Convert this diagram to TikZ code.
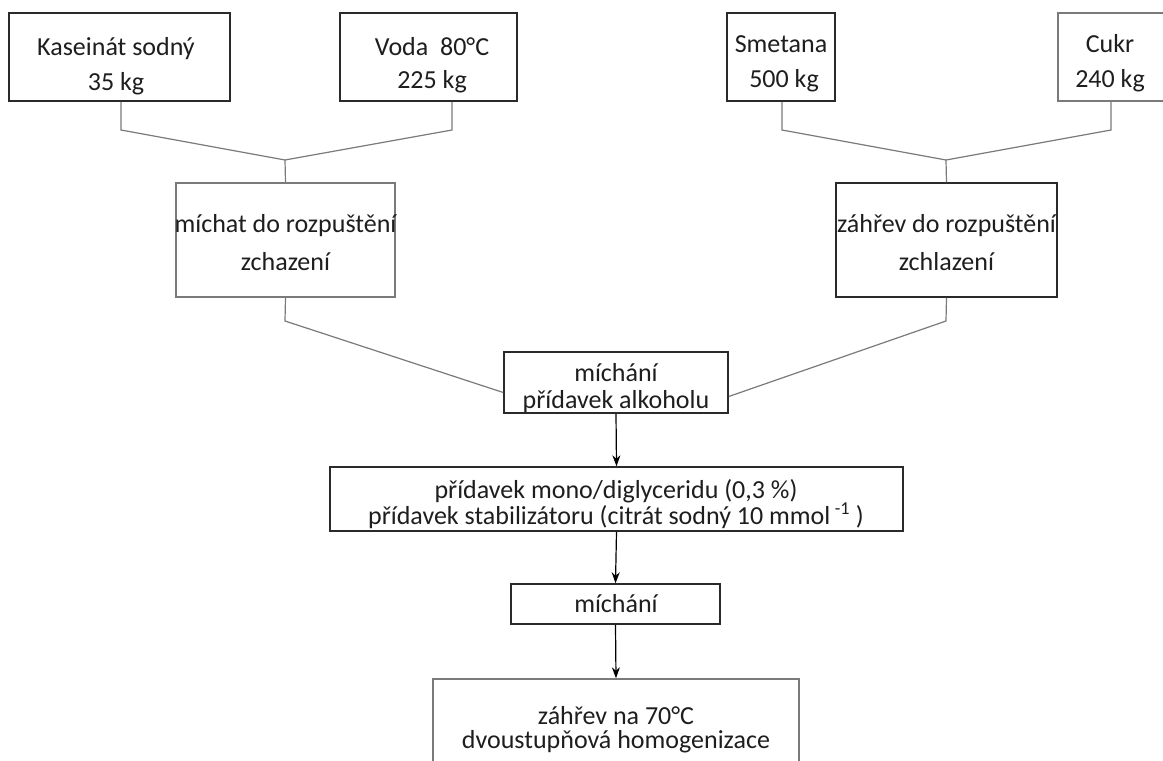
\documentclass[tikz,border=0pt]{standalone}
\usepackage{fontspec}
\setmainfont{Carlito}
\usetikzlibrary{arrows.meta}
\definecolor{txtc}{HTML}{1E1E1E}
\definecolor{lgray}{HTML}{7A7A7A}
\definecolor{dgray}{HTML}{2A2A2A}
\tikzset{
  dbox/.style={draw=dgray, line width=1.5pt, inner sep=0pt},
  gbox/.style={draw=lgray, line width=1.5pt, inner sep=0pt},
  txt/.style={anchor=base, inner sep=0pt, text=txtc, font=\fontsize{26}{30}\selectfont},
  conn/.style={draw=lgray, line width=1.2pt},
  arr/.style={draw=black, line width=1.2pt, -{Stealth[length=11pt,width=8pt]}}
}
\begin{document}
\begin{tikzpicture}[x=1pt,y=-1pt]
\useasboundingbox (0,0) rectangle (1163,761);
\clip (0,0) rectangle (1163,761);
\fill[white] (0,0) rectangle (1163,761);

% top boxes
\node[dbox, minimum width=221pt, minimum height=88pt] (b1) at (119.5,57) {};
\node[txt] (t1a) at (116,55) {Kaseinát sodný};
\node[txt] (t1b) at (116,90) {35 kg};

\node[dbox, minimum width=177pt, minimum height=88pt] (b2) at (428.5,57) {};
\node[txt] (t2a) at (432,55) {Voda\ \ 80°C};
\node[txt] (t2b) at (432,88) {225 kg};

\node[dbox, minimum width=108pt, minimum height=88pt] (b3) at (781,57) {};
\node[txt] (t3a) at (781,52) {Smetana};
\node[txt] (t3b) at (784,87) {500 kg};

\node[gbox, minimum width=120pt, minimum height=88pt] (b4) at (1118,57) {};
\node[txt] (t4a) at (1110,52) {Cukr};
\node[txt] (t4b) at (1110,87) {240 kg};

% second row
\node[gbox, minimum width=219pt, minimum height=114pt] (b5) at (285.5,240) {};
\node[txt] (t5a) at (285.5,232) {míchat do rozpuštění};
\node[txt] (t5b) at (285.5,270) {zchazení};

\node[dbox, minimum width=221pt, minimum height=114pt] (b6) at (946.5,240) {};
\node[txt] (t6a) at (946.5,232) {záhřev do rozpuštění};
\node[txt] (t6b) at (946.5,270) {zchlazení};

% central column
\node[dbox, minimum width=224pt, minimum height=61pt] (b7) at (616,382.5) {};
\node[txt] (t7a) at (616,381) {míchání};
\node[txt] (t7b) at (616,408) {přídavek alkoholu};

\node[dbox, minimum width=573pt, minimum height=64pt] (b8) at (616.5,499) {};
\node[txt] (t8a) at (616,498) {přídavek mono/diglyceridu (0,3 \%)};
\node[txt] (t8b) at (616,524) {přídavek stabilizátoru (citrát sodný 10 mmol\,\textsuperscript{-1} )};

\node[dbox, minimum width=209pt, minimum height=40pt] (b9) at (615.5,604) {};
\node[txt] (t9) at (616,612) {míchání};

\node[gbox, minimum width=366pt, minimum height=110pt] (b10) at (616,734) {};
\node[txt] (t10a) at (616,724) {záhřev na 70°C};
\node[txt] (t10b) at (616,748) {dvoustupňová homogenizace};

% bend points
\coordinate (mL) at (285,160);
\coordinate (mR) at (946,160);
\coordinate (k1) at (121,130);
\coordinate (k2) at (452,130);
\coordinate (k3) at (782,130);
\coordinate (k4) at (1111,130);
\coordinate (dL) at (285,321);
\coordinate (dR) at (946,321);

% connectors
\draw[conn] (b1.south -| k1) -- (k1) -- (mL) -- (b5.north);
\draw[conn] (b2.south -| k2) -- (k2) -- (mL);
\draw[conn] (b3.south -| k3) -- (k3) -- (mR) -- (b6.north);
\draw[conn] (b4.south -| k4) -- (k4) -- (mR);
\draw[conn] (b5.south) -- (dL) -- ([yshift=-10pt]b7.west);
\draw[conn] (b6.south) -- (dR) -- ([yshift=-14pt]b7.east);

\draw[arr] (b7.south) -- (b8.north);
\draw[arr] (b8.south) -- (b9.north);
\draw[arr] (b9.south) -- (b10.north);
\end{tikzpicture}
\end{document}
